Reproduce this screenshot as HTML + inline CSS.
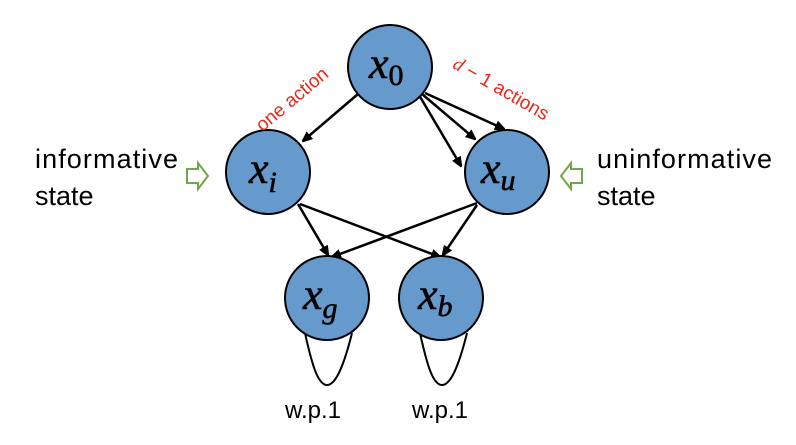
<!DOCTYPE html>
<html><head><style>
body{margin:0;width:796px;height:440px;background:#fff;overflow:hidden}
</style></head><body>
<svg width="796" height="440" xmlns="http://www.w3.org/2000/svg">
<defs><marker id="a" markerWidth="10" markerHeight="10" refX="9" refY="5" orient="auto" markerUnits="userSpaceOnUse"><path d="M0,0 L12,5 L0,10 z" fill="#000"/></marker></defs>
<g stroke="#000" stroke-width="2.5" fill="none" marker-end="url(#a)">
<line x1="358" y1="94" x2="303" y2="141"/>
<line x1="419" y1="95" x2="461" y2="166"/>
<line x1="422" y1="94" x2="475" y2="139"/>
<line x1="425" y1="93" x2="504" y2="129"/>
<line x1="298" y1="204" x2="328" y2="255"/>
<line x1="300" y1="204" x2="440" y2="257"/>
<line x1="477" y1="203" x2="332" y2="257"/>
<line x1="477" y1="205" x2="443" y2="255"/>
</g>
<g stroke="#000" stroke-width="2" fill="none">
<path d="M305,333 C312,365 318,385 327,385 C336,385 344,365 352,333"/>
<path d="M420,333 C427,365 433,385 442,385 C451,385 459,365 467,333"/>
</g>
<g fill="#6699cc" stroke="#000" stroke-width="2">
<circle cx="390" cy="67" r="42"/>
<circle cx="268" cy="172" r="42"/>
<circle cx="507" cy="172" r="42"/>
<circle cx="327" cy="298" r="42"/>
<circle cx="441" cy="298" r="42"/>
</g>
<g font-family="Liberation Serif, serif" font-style="italic" font-size="44" fill="#000" stroke="#000" stroke-width="0.6">
<text x="369" y="78">x<tspan font-size="30" font-style="normal" dy="7">0</tspan></text>
<text x="249" y="183">x<tspan font-size="30" dy="9">i</tspan></text>
<text x="481" y="183">x<tspan font-size="30" dy="7">u</tspan></text>
<text x="303" y="309">x<tspan font-size="30" dy="9">g</tspan></text>
<text x="418" y="309">x<tspan font-size="30" dy="7">b</tspan></text>
</g>
<g font-family="Liberation Sans, sans-serif" fill="#e8291c" font-size="19">
<text transform="translate(296,104) rotate(-40)" text-anchor="middle">one action</text>
<text transform="translate(498,94) rotate(30)" text-anchor="middle"><tspan font-style="italic" font-family="Liberation Serif, serif">d</tspan> − 1 actions</text>
</g>
<g font-family="Liberation Sans, sans-serif" font-size="27" fill="#000">
<text x="35" y="168" textLength="143">informative</text>
<text x="35" y="205">state</text>
<text x="597" y="168" textLength="175">uninformative</text>
<text x="597" y="205">state</text>
<text x="313" y="418" text-anchor="middle" font-size="24">w.p.1</text>
<text x="440" y="418" text-anchor="middle" font-size="24">w.p.1</text>
</g>
<g fill="none" stroke="#70a848" stroke-width="2">
<path d="M187,169 L198,169 L198,163 L208,176 L198,189 L198,183 L187,183 Z"/>
<path d="M582,169 L571,169 L571,163 L561,176 L571,189 L571,183 L582,183 Z"/>
</g>
</svg>
</body></html>
